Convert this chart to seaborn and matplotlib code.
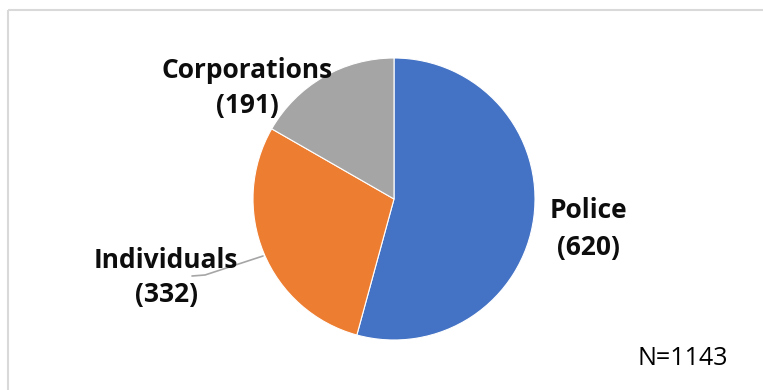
import matplotlib
matplotlib.use("Agg")
import matplotlib.pyplot as plt
import seaborn as sns

categories = ["Police", "Individuals", "Corporations"]
values = [620, 332, 191]
colors = ["#4472C4", "#ED7D31", "#A5A5A5"]
note = "N=1143"

sns.set_theme(style="white")
plt.rcParams['font.family'] = ['Open Sans', 'DejaVu Sans']

W, H = 763, 390
fig = plt.figure(figsize=(W / 100, H / 100), dpi=100)
ax = fig.add_axes([0, 0, 1, 1])

# chart frame
ax.plot([8, 8], [0, H - 10], color="#D9D9D9", lw=1.5, solid_capstyle="butt")
ax.plot([8, W], [H - 10, H - 10], color="#D9D9D9", lw=1.5, solid_capstyle="butt")

cx, cy, r = 394, H - 199, 141
ax.pie(values, colors=colors, startangle=90, counterclock=False,
       center=(cx, cy), radius=r, frame=True,
       wedgeprops=dict(linewidth=0.8, edgecolor="white"))
ax.set_xlim(0, W)
ax.set_ylim(0, H)
ax.set_aspect("equal")
ax.axis("off")

lbl = dict(fontsize=19, fontweight="bold", color="#0D0D0D", ha="center", va="baseline")
# Police
ax.text(588, H - 218, categories[0], **lbl)
ax.text(588, H - 255, f"({values[0]})", **lbl)
# Individuals
ax.text(166, H - 268, categories[1], **lbl)
ax.text(166, H - 302, f"({values[1]})", **lbl)
# Corporations
ax.text(247, H - 78, categories[2], **lbl)
ax.text(247, H - 113, f"({values[2]})", **lbl)

# leader line for Individuals
ax.plot([192, 205, 263], [H - 276, H - 275, H - 256], color="#A6A6A6", lw=1.2)

ax.text(637, H - 365, note, fontsize=18, color="#000000", ha="left", va="baseline")

fig.savefig("out.png", dpi=100)
